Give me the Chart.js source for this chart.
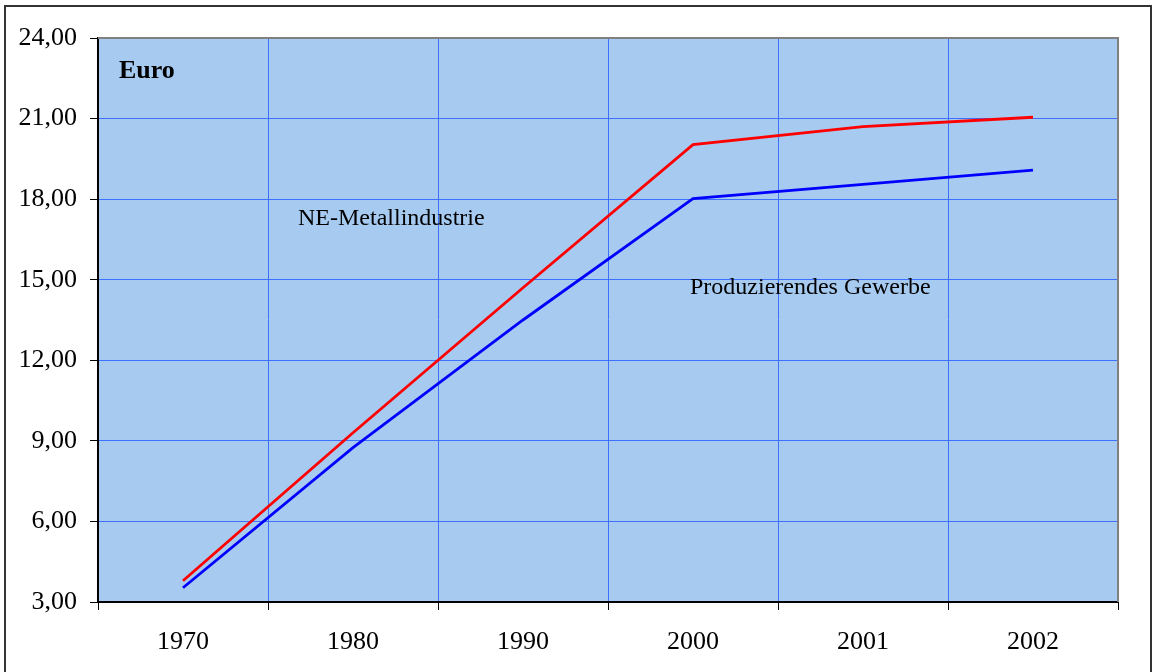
<!DOCTYPE html>
<html>
<head>
<meta charset="utf-8">
<script src="https://cdn.jsdelivr.net/npm/chart.js@4.4.1/dist/chart.umd.min.js"></script>
<style>
  html, body { margin: 0; padding: 0; background: #fff; }
  #wrap { width: 1157px; height: 672px; position: relative; }
</style>
</head>
<body>
<div id="wrap"><canvas id="myChart"></canvas></div>
<script>
const years = ['1970', '1980', '1990', '2000', '2001', '2002'];
const neMetall = [3.79, 9.3, 14.7, 20.03, 20.7, 21.05];
const produzierend = [3.53, 8.75, 13.5, 18.02, 18.55, 19.08];
const yMin = 3, yMax = 24, yStep = 3;

const serif = "'Liberation Serif', 'Times New Roman', serif";

// plot background, outer frame, gray top/right border, text labels
const decor = {
  id: 'decor',
  beforeDraw(chart) {
    const { ctx, chartArea: a } = chart;
    ctx.save();
    ctx.fillStyle = '#fff';
    ctx.fillRect(0, 0, chart.width, chart.height);
    ctx.fillStyle = '#A6CAF0';
    ctx.fillRect(a.left, a.top, a.right - a.left, a.bottom - a.top);
    ctx.restore();
  },
  afterDraw(chart) {
    const { ctx, chartArea: a } = chart;
    const y = chart.scales.y;
    ctx.save();
    ctx.strokeStyle = '#808080';
    ctx.lineWidth = 2;
    ctx.beginPath();
    ctx.moveTo(a.left, a.top);
    ctx.lineTo(a.right, a.top);
    ctx.lineTo(a.right, a.bottom);
    ctx.stroke();

    ctx.strokeStyle = '#333';
    ctx.lineWidth = 2;
    ctx.strokeRect(5, 6, 1146, 700);

    ctx.fillStyle = '#000';
    ctx.textBaseline = 'middle';
    ctx.textAlign = 'left';
    ctx.font = "bold 26px " + serif;
    ctx.fillText('Euro', a.left + 21, y.getPixelForValue(22.75));
    ctx.font = "24px " + serif;
    ctx.fillText('NE-Metallindustrie', a.left + 200, y.getPixelForValue(17.27));
    ctx.fillText('Produzierendes Gewerbe', a.left + 592, y.getPixelForValue(14.7));
    ctx.restore();
  }
};

new Chart(document.getElementById('myChart'), {
  type: 'line',
  data: {
    labels: years,
    datasets: [{
      label: 'NE-Metallindustrie',
      data: neMetall,
      borderColor: '#FF0000',
      borderWidth: 2.8,
      pointRadius: 0,
      tension: 0
    }, {
      label: 'Produzierendes Gewerbe',
      data: produzierend,
      borderColor: '#0000FF',
      borderWidth: 2.8,
      pointRadius: 0,
      tension: 0
    }]
  },
  options: {
    responsive: true,
    maintainAspectRatio: false,
    animation: false,
    layout: { padding: { left: 0, top: 38, right: 39, bottom: 0 } },
    plugins: {
      legend: { display: false },
      tooltip: { enabled: false }
    },
    scales: {
      x: {
        offset: true,
        grid: {
          offset: true,
          color: '#3F6FFF',
          lineWidth: 1,
          tickColor: '#000',
          tickLength: 8
        },
        border: { color: '#000', width: 2 },
        ticks: {
          color: '#000',
          padding: 17,
          font: { family: serif, size: 26 },
          maxRotation: 0
        },
        afterFit: (scale) => { scale.height = 70; }
      },
      y: {
        min: yMin,
        max: yMax,
        grid: {
          color: '#3F6FFF',
          lineWidth: 1,
          tickColor: '#000',
          tickLength: 8
        },
        border: { color: '#000', width: 2 },
        ticks: {
          stepSize: yStep,
          color: '#000',
          padding: 13,
          font: { family: serif, size: 26 },
          callback: (v) => v.toFixed(2).replace('.', ',')
        },
        afterFit: (scale) => { scale.width = 98; }
      }
    }
  },
  plugins: [decor]
});
</script>
</body>
</html>
